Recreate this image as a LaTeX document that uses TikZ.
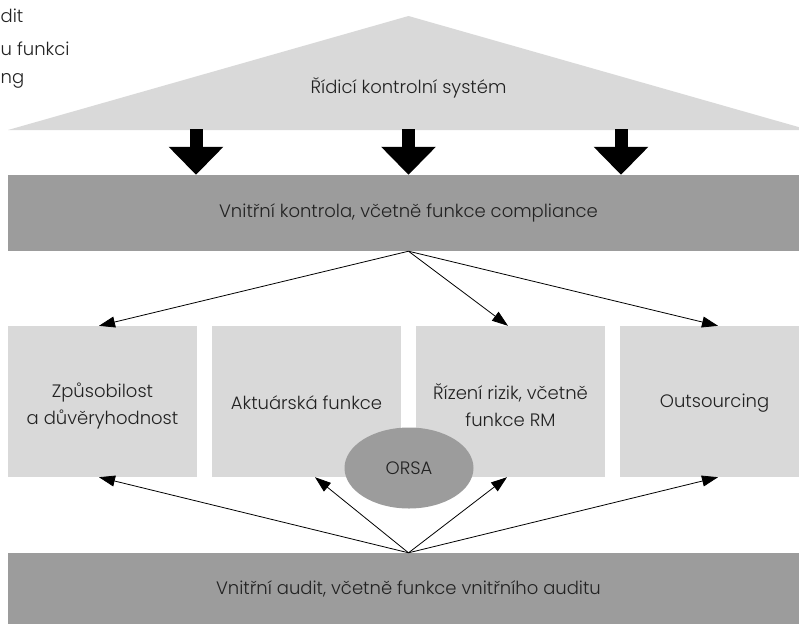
\documentclass[tikz,border=0pt]{standalone}
\usepackage{fontspec}
\setmainfont{Poppins Light}
\usetikzlibrary{arrows.meta,shapes.geometric}
\definecolor{lightbox}{HTML}{D9D9D9}
\definecolor{darkbox}{HTML}{9C9C9C}
\definecolor{textgrey}{HTML}{222222}
\tikzset{
  panel/.style={fill=lightbox, inner sep=0pt, minimum width=189pt, minimum height=151pt, align=center},
  band/.style={fill=darkbox, inner sep=0pt, minimum width=801pt},
  thinarrow/.style={-{Triangle[length=16pt,width=11pt]}, line width=0.8pt},
  blockarrow/.style={-{Triangle[length=28pt,width=53pt]}, line width=13pt},
}
\begin{document}
\begin{tikzpicture}[x=1pt, y=-1pt, font=\fontsize{18pt}{27pt}\selectfont, text=textgrey]
      \clip (0,0) rectangle (799,624);
      % cut-off text on the left
      \foreach \txt/\y [count=\i] in {dit/22, u funkci/55, ng/83}
        \node[anchor=base west, inner sep=0pt] (side\i) at (0.5,\y) {\txt};
      \fill[lightbox] (8,130) -- (408.5,16) -- (809,130) -- cycle;
      \draw
        (408.5,88) node (sys) {Řídicí kontrolní systém}
        (408.5,213) node[band, minimum height=76pt] (ctrl) {Vnitřní kontrola, včetně funkce compliance}
        (102.5,401.5) node[panel] (zpus) {\rule{0pt}{23pt}Způsobilost\\a důvěryhodnost}
        (306.5,401.5) node[panel] (akt) {\rule{0pt}{17pt}Aktuárská funkce}
        (510.5,401.5) node[panel] (riz) {\rule{0pt}{23pt}Řízení rizik, včetně\\funkce RM}
        (714.5,401.5) node[panel] (outs) {\rule{0pt}{17pt}Outsourcing}
        (409,468) node[ellipse, fill=darkbox, inner sep=0pt, minimum width=129pt, minimum height=81pt] (orsa) {ORSA}
        (408.5,588.5) node[band, minimum height=71pt] (audit) {Vnitřní audit, včetně funkce vnitřního auditu};
      \foreach \x [count=\i] in {196,408.5,621} {
        \coordinate (base\i) at (\x,129);
        \draw[blockarrow] (base\i) -- (base\i |- ctrl.north);
      }
      \begin{scope}[thinarrow]
        \draw (ctrl.south) to ([xshift=-3.5pt]zpus.north);
        \draw (ctrl.south) to ([xshift=-2.5pt]riz.north);
        \draw (ctrl.south) to ([xshift=3.5pt]outs.north);
        \draw (audit.north) to ([xshift=-3.5pt]zpus.south);
        \draw (audit.north) to ([xshift=8.5pt]akt.south);
        \draw (audit.north) to ([xshift=-3.5pt]riz.south);
        \draw (audit.north) to ([xshift=3.5pt]outs.south);
      \end{scope}
    \end{tikzpicture}
\end{document}
